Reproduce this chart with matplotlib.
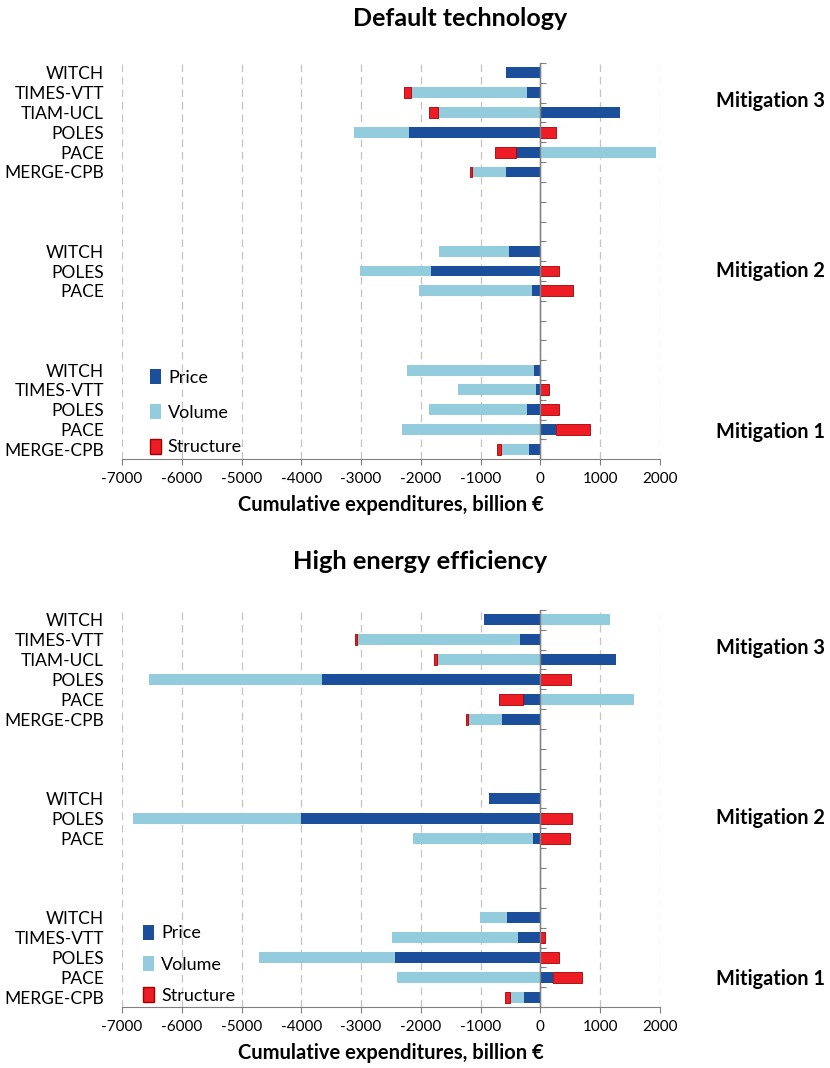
import numpy as np
import matplotlib.pyplot as plt
from matplotlib.patches import Patch
from matplotlib.transforms import blended_transform_factory

plt.rcParams['font.family'] = ['Lato', 'DejaVu Sans']
plt.rcParams['axes.unicode_minus'] = False

# rows listed top to bottom: Mitigation 3, Mitigation 2, Mitigation 1
models_m3 = ['WITCH', 'TIMES-VTT', 'TIAM-UCL', 'POLES', 'PACE', 'MERGE-CPB']
models_m2 = ['WITCH', 'POLES', 'PACE']
models_m1 = ['WITCH', 'TIMES-VTT', 'POLES', 'PACE', 'MERGE-CPB']
scenarios = ['Mitigation 3', 'Mitigation 2', 'Mitigation 1']
series = ['Price', 'Volume', 'Structure']

# Default technology
def_price = [-580, -215, 1340, -2190, -410, -580,
             -530, -1830, -140,
             -110, -70, -230, 260, -190]
def_volume = [0, -1950, -1720, -920, 1930, -560,
              -1165, -1180, -1890,
              -2120, -1310, -1640, -2320, -460]
def_structure = [0, -120, -140, 270, -350, -40,
                 0, 305, 555,
                 0, 150, 310, 570, -75]

# High energy efficiency
hee_price = [-945, -335, 1265, -3655, -290, -640,
             -855, -4005, -125,
             -560, -370, -2425, 215, -275]
hee_volume = [1160, -2735, -1735, -2890, 1565, -575,
              0, -2810, -2010,
              -455, -2110, -2290, -2400, -225]
hee_structure = [0, -30, -50, 505, -400, -35,
                 0, 535, 490,
                 0, 75, 320, 485, -90]

colors = {'Price': '#1b4f9c', 'Volume': '#93cddd', 'Structure': '#ee1d25'}
edges = {'Price': 'none', 'Volume': 'none', 'Structure': '#a30000'}

# slot positions (bottom = 0), with three empty slots between groups
ypos = np.array([19, 18, 17, 16, 15, 14, 10, 9, 8, 4, 3, 2, 1, 0])
labels = models_m3 + models_m2 + models_m1
scen_y = [17.6, 9.0, 0.9]
xmin, xmax = -7000, 2000


def draw_panel(ax, price, volume, structure, legend_anchor, legend_spacing):
    pos = np.zeros(len(ypos))
    neg = np.zeros(len(ypos))
    for name, vals in zip(series, [price, volume, structure]):
        vals = np.array(vals, dtype=float)
        left = np.where(vals >= 0, pos, neg)
        nz = vals != 0
        ax.barh(ypos[nz], vals[nz], left=left[nz], height=0.55, color=colors[name],
                edgecolor=edges[name], linewidth=0.6, label=name, zorder=3)
        pos = pos + np.clip(vals, 0, None)
        neg = neg + np.clip(vals, None, 0)

    ax.set_xlim(xmin, xmax)
    ax.set_ylim(-0.5, 19.5)
    ax.set_xticks(np.arange(xmin, xmax + 1, 1000))
    for x in np.arange(xmin, xmax + 1, 1000):
        if x != 0:
            ax.axvline(x, color='#c4c4c4', linestyle=(0, (6, 4)), lw=0.9, zorder=1)
    ax.axvline(0, color='#808080', lw=1.0, zorder=4)

    ax.set_yticks(ypos)
    ax.set_yticklabels(labels, fontsize=12.5)
    ax.tick_params(axis='y', length=0, pad=13)
    ax.tick_params(axis='x', length=4, color='#808080', labelsize=11, pad=5)

    for side in ['top', 'right', 'left']:
        ax.spines[side].set_visible(False)
    ax.spines['bottom'].set_color('#808080')

    # category ticks on the zero axis
    sec = ax.secondary_yaxis((0 - xmin) / (xmax - xmin))
    sec.set_yticks(np.arange(-0.5, 20, 1))
    sec.set_yticklabels([])
    sec.tick_params(length=4, color='#808080')
    sec.spines['left'].set_visible(False)

    ax.set_xlabel('Cumulative expenditures, billion €', fontsize=14.5,
                  fontweight='bold', labelpad=7)

    trans = blended_transform_factory(ax.transAxes, ax.transData)
    for name, y in zip(scenarios, scen_y):
        ax.text(1.104, y, name, transform=trans, fontsize=14.3,
                fontweight='bold', va='center', ha='left')

    handles = [Patch(facecolor=colors[s], edgecolor=edges[s], label=s) for s in series]
    ax.legend(handles=handles, loc='upper left', bbox_to_anchor=legend_anchor,
              frameon=False, fontsize=13, handlelength=0.6, handleheight=0.9,
              handletextpad=0.4, labelspacing=legend_spacing, borderpad=0)


fig = plt.figure(figsize=(8.3, 10.68), dpi=100)
ax_top = fig.add_axes([0.147, 0.570, 0.648, 0.371])
ax_bot = fig.add_axes([0.147, 0.057, 0.648, 0.372])

draw_panel(ax_top, def_price, def_volume, def_structure, (0.035, 0.25), 1.0)
draw_panel(ax_bot, hee_price, hee_volume, hee_structure, (0.022, 0.23), 0.8)

fig.text(0.554, 0.983, 'Default technology', ha='center', va='center',
         fontsize=18, fontweight='bold')
fig.text(0.506, 0.474, 'High energy efficiency', ha='center', va='center',
         fontsize=18.3, fontweight='bold')

fig.savefig('out.png', dpi=100, facecolor='white')
